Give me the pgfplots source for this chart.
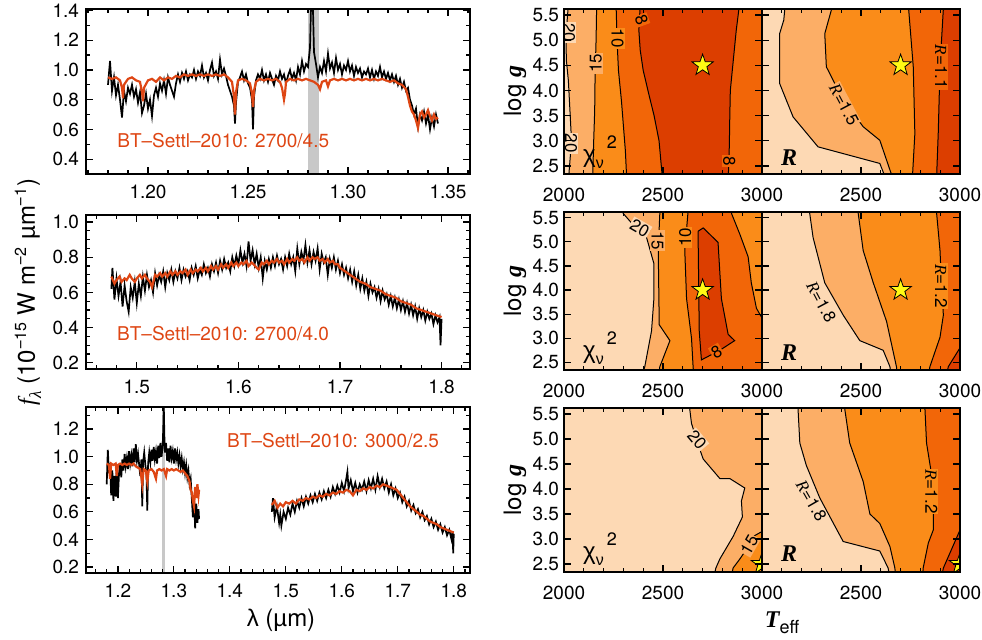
\documentclass[border=0pt]{standalone}
\usepackage{pgfplots}
\pgfplotsset{compat=1.18}
\usepackage{fontspec}
\setmainfont{TeX Gyre Heros}
\newfontfamily\greek{Liberation Sans}
\newfontfamily\tnr{Liberation Serif}
\newcommand\ticksize{\fontsize{9.5}{11}\selectfont}
\newcommand\labsize{\fontsize{12}{14}\selectfont}
\newcommand\cls{\fontsize{8.5}{9}\selectfont}
\newcommand\Rv{{\tnr\itshape R}}
\definecolor{specred}{RGB}{222,70,20}
\definecolor{c1}{RGB}{253,217,180}
\definecolor{c2}{RGB}{252,174,102}
\definecolor{c3}{RGB}{250,140,25}
\definecolor{c4}{RGB}{242,102,8}
\definecolor{c5}{RGB}{220,62,0}
\definecolor{band}{RGB}{200,200,200}
\definecolor{staryel}{RGB}{255,250,20}
\pgfdeclareplotmark{fivestar}{%
 \pgfpathmoveto{\pgfpointpolar{90}{\pgfplotmarksize}}%
 \pgfpathlineto{\pgfpointpolar{126}{0.4\pgfplotmarksize}}%
 \pgfpathlineto{\pgfpointpolar{162}{\pgfplotmarksize}}%
 \pgfpathlineto{\pgfpointpolar{198}{0.4\pgfplotmarksize}}%
 \pgfpathlineto{\pgfpointpolar{234}{\pgfplotmarksize}}%
 \pgfpathlineto{\pgfpointpolar{270}{0.4\pgfplotmarksize}}%
 \pgfpathlineto{\pgfpointpolar{306}{\pgfplotmarksize}}%
 \pgfpathlineto{\pgfpointpolar{342}{0.4\pgfplotmarksize}}%
 \pgfpathlineto{\pgfpointpolar{18}{\pgfplotmarksize}}%
 \pgfpathlineto{\pgfpointpolar{54}{0.4\pgfplotmarksize}}%
 \pgfpathclose\pgfusepathqfillstroke}
\pgfplotsset{
 base/.style={scale only axis, axis on top, anchor=north west,
   axis line style={line width=0.9pt}, tick style={black, line width=0.6pt},
   major tick length=3.6pt, minor tick length=1.8pt, tick align=inside,
   /pgf/number format/assume math mode=true, tick label style={font=\ticksize},
   clip marker paths=true},
 spec/.style={base, width=192pt, xticklabel style={yshift=-2pt}},
 cont/.style={base, width=99pt, xmin=2000, xmax=3000, ymin=2.34, ymax=5.62,
   xtick={2000,2500,3000}, minor x tick num=4,
   ytick={2.5,3.0,3.5,4.0,4.5,5.0,5.5}, yticklabels={2.5,3.0,3.5,4.0,4.5,5.0,5.5},
   xticklabel style={yshift=-3.5pt}, yticklabel style={xshift=1pt},
   axis background/.style={fill=c1}},
 contl/.style={cont, xticklabels={2000,2500,3000}},
 contr/.style={cont, xticklabels={,2500,3000}, yticklabels={}},
 cline/.style={black, line width=0.5pt},
 blk/.style={black, line width=0.85pt},
 rd/.style={specred, line width=1.1pt},
 star/.style={only marks, mark=fivestar, mark size=5.6pt, mark options={fill=staryel, draw=black, line width=0.4pt}},
}
\begin{document}
\begin{tikzpicture}
\useasboundingbox (0,0) rectangle (491pt,-319.5pt);
%================ Panel 1 ===================
\begin{axis}[spec, at={(43pt,-4.5pt)}, height=82.5pt,
  xmin=1.169, xmax=1.361, ymin=0.30, ymax=1.41,
  xtick={1.20,1.25,1.30,1.35}, xticklabels={1.20,1.25,1.30,1.35},
  minor xtick={1.17,1.18,...,1.36},
  ytick={0.4,0.6,0.8,1.0,1.2,1.4}, yticklabels={0.4,0.6,0.8,1.0,1.2,1.4},
  minor ytick={0.3,0.4,...,1.4}]
\addplot[draw=none, fill=band] coordinates {(1.2800,0.2)(1.2855,0.2)(1.2855,1.5)(1.2800,1.5)};
\addplot[blk] coordinates {
(1.180,0.90)(1.181,1.06)(1.182,0.86)(1.183,0.95)(1.184,0.83)(1.185,0.90)(1.186,0.80)(1.187,0.68)(1.188,0.86)(1.189,0.79)
(1.190,0.88)(1.191,0.84)(1.192,0.90)(1.193,0.82)(1.194,0.87)(1.195,0.78)(1.196,0.85)(1.197,0.71)(1.198,0.76)(1.199,0.84)
(1.200,0.74)(1.201,0.80)(1.202,0.69)(1.203,0.83)(1.204,0.88)(1.205,0.82)(1.206,0.91)(1.207,0.86)(1.208,0.93)(1.209,0.84)
(1.210,0.95)(1.211,0.90)(1.212,0.86)(1.213,0.82)(1.214,0.91)(1.215,0.97)(1.216,0.92)(1.217,0.98)(1.218,0.94)(1.219,0.99)
(1.220,0.93)(1.221,0.97)(1.222,0.95)(1.223,1.00)(1.224,0.94)(1.225,0.99)(1.226,0.96)(1.227,1.03)(1.228,0.95)(1.229,0.98)
(1.230,0.93)(1.231,1.00)(1.232,1.05)(1.233,0.96)(1.234,0.99)(1.235,0.94)(1.236,1.07)(1.237,0.97)(1.238,1.01)(1.239,0.96)
(1.240,0.90)(1.241,0.86)(1.242,0.82)(1.243,0.76)(1.2435,0.64)(1.244,0.78)(1.245,0.92)(1.246,0.95)(1.247,0.99)(1.248,0.93)
(1.249,0.97)(1.250,0.91)(1.251,0.88)(1.252,0.80)(1.2525,0.60)(1.253,0.82)(1.254,0.93)(1.255,0.97)(1.256,0.94)(1.257,1.00)
(1.258,0.93)(1.259,0.97)(1.260,0.92)(1.261,0.98)(1.262,0.94)(1.263,0.90)(1.264,0.96)(1.265,0.93)(1.266,0.99)(1.267,0.94)
(1.268,0.97)(1.269,0.91)(1.270,0.96)(1.271,1.00)(1.272,0.94)(1.273,0.98)(1.274,0.93)(1.275,1.02)(1.276,0.97)(1.277,1.06)
(1.278,0.99)(1.279,1.04)(1.280,1.02)(1.281,1.15)(1.2815,1.42)(1.282,1.50)(1.2825,1.40)(1.283,1.12)(1.284,1.04)(1.285,0.95)
(1.286,1.02)(1.287,0.98)(1.288,1.06)(1.289,0.99)(1.290,1.11)(1.291,1.01)(1.292,1.05)(1.293,0.98)(1.294,1.08)(1.295,1.00)
(1.296,1.04)(1.297,0.97)(1.298,1.03)(1.299,1.00)(1.300,1.06)(1.301,0.99)(1.302,1.03)(1.303,0.96)(1.304,1.02)(1.305,0.98)
(1.306,1.01)(1.307,0.95)(1.308,0.99)(1.309,0.97)(1.310,1.01)(1.311,0.95)(1.312,1.00)(1.313,0.94)(1.314,0.99)(1.315,0.96)
(1.316,1.02)(1.317,0.95)(1.318,0.99)(1.319,0.94)(1.320,0.98)(1.321,0.93)(1.322,0.97)(1.323,0.92)(1.324,0.96)(1.325,0.90)
(1.326,0.94)(1.327,0.88)(1.328,0.92)(1.329,0.86)(1.330,0.88)(1.331,0.80)(1.332,0.76)(1.333,0.70)(1.334,0.74)(1.335,0.62)
(1.336,0.70)(1.337,0.66)(1.338,0.72)(1.339,0.64)(1.340,0.70)(1.341,0.60)(1.342,0.68)(1.343,0.62)(1.344,0.70)(1.345,0.64)};
\addplot[rd] coordinates {
(1.180,0.95)(1.182,0.94)(1.184,0.95)(1.186,0.93)(1.187,0.88)(1.1875,0.81)(1.188,0.90)(1.190,0.94)(1.192,0.95)(1.194,0.93)
(1.196,0.92)(1.197,0.85)(1.1975,0.79)(1.198,0.88)(1.200,0.93)(1.202,0.94)(1.204,0.92)(1.206,0.95)(1.208,0.93)(1.210,0.95)
(1.212,0.94)(1.214,0.96)(1.216,0.95)(1.218,0.97)(1.220,0.96)(1.222,0.97)(1.224,0.96)(1.226,0.97)(1.228,0.96)(1.230,0.97)
(1.232,0.96)(1.234,0.97)(1.236,0.96)(1.238,0.97)(1.240,0.95)(1.242,0.92)(1.243,0.82)(1.2435,0.70)(1.244,0.85)(1.245,0.93)
(1.247,0.94)(1.249,0.93)(1.251,0.91)(1.252,0.84)(1.2525,0.75)(1.253,0.86)(1.254,0.92)(1.256,0.94)(1.258,0.93)(1.260,0.94)
(1.262,0.93)(1.264,0.94)(1.266,0.92)(1.267,0.88)(1.268,0.80)(1.2685,0.84)(1.269,0.92)(1.271,0.94)(1.273,0.93)(1.275,0.94)
(1.277,0.93)(1.279,0.94)(1.281,0.93)(1.283,0.92)(1.285,0.90)(1.286,0.87)(1.287,0.92)(1.289,0.93)(1.290,0.89)(1.291,0.93)
(1.293,0.94)(1.295,0.93)(1.297,0.94)(1.299,0.93)(1.301,0.94)(1.303,0.93)(1.305,0.94)(1.307,0.93)(1.309,0.94)(1.311,0.93)
(1.313,0.94)(1.315,0.93)(1.317,0.94)(1.319,0.93)(1.321,0.92)(1.323,0.93)(1.325,0.91)(1.327,0.90)(1.329,0.87)(1.330,0.82)
(1.331,0.76)(1.332,0.72)(1.333,0.70)(1.334,0.66)(1.335,0.61)(1.336,0.70)(1.337,0.72)(1.338,0.68)(1.339,0.70)(1.340,0.73)
(1.341,0.69)(1.342,0.66)(1.343,0.70)(1.344,0.67)(1.345,0.68)};
\node[anchor=west, inner sep=0pt, text=specred, font=\ticksize] at (axis cs:1.1845,0.528) {BT\textendash Settl\textendash 2010: 2700/4.5};
\end{axis}
%================ Panel 2 ===================
\begin{axis}[spec, at={(43pt,-107.5pt)}, height=77pt,
  xmin=1.45, xmax=1.828, ymin=0.165, ymax=1.04,
  xtick={1.5,1.6,1.7,1.8}, xticklabels={1.5,1.6,1.7,1.8},
  minor xtick={1.46,1.48,...,1.82},
  ytick={0.2,0.4,0.6,0.8,1.0}, yticklabels={0.2,0.4,0.6,0.8,1.0},
  minor ytick={0.2,0.25,...,1.0}]
\addplot[blk] coordinates {
(1.475,0.62)(1.476,0.74)(1.478,0.56)(1.480,0.68)(1.482,0.58)(1.484,0.66)(1.486,0.52)(1.488,0.64)(1.490,0.55)(1.492,0.49)
(1.494,0.63)(1.496,0.57)(1.498,0.66)(1.500,0.54)(1.502,0.65)(1.504,0.58)(1.506,0.69)(1.508,0.61)(1.510,0.70)(1.512,0.63)
(1.514,0.67)(1.516,0.60)(1.518,0.71)(1.520,0.64)(1.522,0.70)(1.524,0.66)(1.526,0.72)(1.528,0.63)(1.530,0.71)(1.532,0.67)
(1.534,0.73)(1.536,0.66)(1.538,0.72)(1.540,0.68)(1.542,0.74)(1.544,0.67)(1.546,0.73)(1.548,0.69)(1.550,0.72)(1.552,0.67)
(1.554,0.74)(1.556,0.70)(1.558,0.75)(1.560,0.68)(1.562,0.73)(1.564,0.70)(1.566,0.76)(1.568,0.71)(1.570,0.74)(1.572,0.69)
(1.574,0.76)(1.576,0.72)(1.578,0.77)(1.580,0.71)(1.582,0.78)(1.584,0.73)(1.586,0.79)(1.588,0.74)(1.590,0.77)(1.592,0.72)
(1.594,0.80)(1.596,0.75)(1.598,0.81)(1.600,0.76)(1.602,0.84)(1.604,0.77)(1.606,0.82)(1.608,0.75)(1.610,0.89)(1.612,0.78)
(1.614,0.84)(1.616,0.76)(1.618,0.82)(1.620,0.74)(1.622,0.80)(1.624,0.68)(1.626,0.78)(1.628,0.73)(1.630,0.79)(1.632,0.74)
(1.634,0.80)(1.636,0.75)(1.638,0.81)(1.640,0.76)(1.642,0.79)(1.644,0.73)(1.646,0.80)(1.648,0.75)(1.650,0.82)(1.652,0.76)
(1.654,0.80)(1.656,0.72)(1.658,0.85)(1.660,0.76)(1.662,0.83)(1.664,0.78)(1.666,0.87)(1.668,0.77)(1.670,0.84)(1.672,0.76)
(1.674,0.83)(1.676,0.78)(1.678,0.85)(1.680,0.73)(1.682,0.82)(1.684,0.77)(1.686,0.80)(1.688,0.70)(1.690,0.79)(1.692,0.74)
(1.694,0.80)(1.696,0.73)(1.698,0.78)(1.700,0.71)(1.702,0.76)(1.704,0.70)(1.706,0.74)(1.708,0.68)(1.710,0.73)(1.712,0.66)
(1.714,0.72)(1.716,0.64)(1.718,0.70)(1.720,0.62)(1.722,0.68)(1.724,0.61)(1.726,0.66)(1.728,0.58)(1.730,0.65)(1.732,0.60)
(1.734,0.63)(1.736,0.57)(1.738,0.62)(1.740,0.55)(1.742,0.61)(1.744,0.56)(1.746,0.59)(1.748,0.53)(1.750,0.58)(1.752,0.52)
(1.754,0.57)(1.756,0.51)(1.758,0.56)(1.760,0.50)(1.762,0.55)(1.764,0.49)(1.766,0.54)(1.768,0.48)(1.770,0.53)(1.772,0.47)
(1.774,0.52)(1.776,0.45)(1.778,0.51)(1.780,0.46)(1.782,0.50)(1.784,0.44)(1.786,0.49)(1.788,0.45)(1.790,0.48)(1.792,0.42)
(1.794,0.47)(1.796,0.43)(1.798,0.46)(1.799,0.30)(1.800,0.45)};
\addplot[rd] coordinates {
(1.475,0.69)(1.478,0.65)(1.480,0.67)(1.483,0.69)(1.485,0.66)(1.488,0.68)(1.490,0.67)(1.493,0.70)(1.495,0.68)(1.498,0.66)
(1.500,0.68)(1.503,0.70)(1.505,0.68)(1.508,0.70)(1.510,0.68)(1.513,0.66)(1.515,0.63)(1.518,0.70)(1.520,0.69)(1.523,0.71)
(1.525,0.69)(1.528,0.71)(1.530,0.69)(1.533,0.72)(1.535,0.70)(1.538,0.72)(1.540,0.70)(1.543,0.72)(1.545,0.71)(1.548,0.73)
(1.550,0.70)(1.553,0.73)(1.555,0.71)(1.558,0.73)(1.560,0.72)(1.563,0.74)(1.565,0.72)(1.568,0.74)(1.570,0.72)(1.573,0.75)
(1.575,0.73)(1.578,0.75)(1.580,0.73)(1.583,0.76)(1.585,0.74)(1.588,0.76)(1.590,0.74)(1.593,0.77)(1.595,0.75)(1.598,0.77)
(1.600,0.75)(1.603,0.77)(1.605,0.76)(1.608,0.78)(1.610,0.75)(1.613,0.77)(1.615,0.76)(1.618,0.74)(1.620,0.73)(1.623,0.77)
(1.625,0.76)(1.628,0.78)(1.630,0.76)(1.633,0.78)(1.635,0.77)(1.638,0.79)(1.640,0.77)(1.643,0.78)(1.645,0.76)(1.648,0.79)
(1.650,0.77)(1.653,0.79)(1.655,0.78)(1.658,0.80)(1.660,0.78)(1.663,0.79)(1.665,0.77)(1.668,0.80)(1.670,0.78)(1.673,0.80)
(1.675,0.79)(1.678,0.80)(1.680,0.78)(1.683,0.79)(1.685,0.77)(1.688,0.79)(1.690,0.77)(1.693,0.78)(1.695,0.76)(1.698,0.76)
(1.700,0.74)(1.705,0.72)(1.710,0.70)(1.715,0.68)(1.720,0.66)(1.725,0.65)(1.730,0.63)(1.735,0.62)(1.740,0.61)(1.745,0.59)
(1.750,0.58)(1.755,0.57)(1.760,0.55)(1.765,0.54)(1.770,0.53)(1.775,0.51)(1.780,0.50)(1.785,0.49)(1.790,0.48)(1.795,0.47)(1.800,0.46)};
\node[anchor=west, inner sep=0pt, text=specred, font=\ticksize] at (axis cs:1.4803,0.365) {BT\textendash Settl\textendash 2010: 2700/4.0};
\end{axis}
%================ Panel 3 ===================
\begin{axis}[spec, at={(43pt,-203.5pt)}, height=83pt,
  xmin=1.143, xmax=1.829, ymin=0.157, ymax=1.36,
  xtick={1.2,1.3,1.4,1.5,1.6,1.7,1.8}, xticklabels={1.2,1.3,1.4,1.5,1.6,1.7,1.8},
  minor xtick={1.16,1.18,...,1.82},
  ytick={0.2,0.4,0.6,0.8,1.0,1.2}, yticklabels={0.2,0.4,0.6,0.8,1.0,1.2},
  minor ytick={0.2,0.3,...,1.3}]
\addplot[draw=none, fill=band] coordinates {(1.2795,0.1)(1.2845,0.1)(1.2845,1.4)(1.2795,1.4)};
\addplot[blk] coordinates {
(1.180,0.80)(1.182,1.05)(1.184,0.88)(1.186,0.95)(1.188,0.72)(1.190,0.90)(1.192,0.68)(1.194,0.86)(1.196,0.71)(1.198,0.92)
(1.200,0.70)(1.202,0.88)(1.204,0.95)(1.206,0.85)(1.208,0.98)(1.210,0.90)(1.212,1.02)(1.214,0.93)(1.216,0.99)(1.218,0.91)
(1.220,1.04)(1.222,0.95)(1.224,1.01)(1.226,0.93)(1.228,1.06)(1.230,0.96)(1.232,1.09)(1.234,0.97)(1.236,1.02)(1.238,0.94)
(1.240,0.86)(1.242,0.98)(1.2435,0.64)(1.245,0.96)(1.247,1.03)(1.249,0.94)(1.251,0.88)(1.2525,0.61)(1.254,0.95)(1.256,1.03)
(1.258,0.96)(1.260,1.05)(1.262,0.97)(1.264,1.07)(1.266,0.98)(1.268,1.04)(1.270,0.95)(1.272,1.08)(1.274,0.99)(1.276,1.10)
(1.278,1.00)(1.280,1.08)(1.281,1.20)(1.282,1.36)(1.283,1.15)(1.284,1.03)(1.286,1.10)(1.288,0.97)(1.290,1.06)(1.292,0.96)
(1.294,1.08)(1.296,0.99)(1.298,1.04)(1.300,0.95)(1.302,1.06)(1.304,0.98)(1.306,1.03)(1.308,0.95)(1.310,1.01)(1.312,0.93)
(1.314,0.99)(1.316,0.91)(1.318,0.96)(1.320,0.88)(1.322,0.94)(1.324,0.85)(1.326,0.90)(1.328,0.80)(1.330,0.84)(1.332,0.70)
(1.334,0.56)(1.336,0.70)(1.338,0.48)(1.340,0.66)(1.342,0.52)(1.344,0.62)(1.345,0.55)};
\addplot[blk] coordinates {
(1.475,0.60)(1.477,0.70)(1.480,0.56)(1.484,0.64)(1.488,0.52)(1.490,0.58)(1.492,0.50)(1.496,0.60)(1.500,0.55)(1.504,0.63)
(1.508,0.58)(1.512,0.66)(1.516,0.60)(1.520,0.68)(1.524,0.63)(1.528,0.70)(1.532,0.64)(1.536,0.71)(1.540,0.66)(1.544,0.72)
(1.548,0.67)(1.552,0.73)(1.556,0.68)(1.560,0.74)(1.564,0.69)(1.568,0.75)(1.572,0.70)(1.576,0.76)(1.580,0.71)(1.584,0.78)
(1.588,0.73)(1.592,0.79)(1.596,0.74)(1.600,0.81)(1.604,0.75)(1.608,0.84)(1.610,0.89)(1.612,0.77)(1.616,0.83)(1.620,0.75)
(1.624,0.81)(1.628,0.74)(1.632,0.80)(1.636,0.76)(1.640,0.82)(1.644,0.75)(1.648,0.83)(1.652,0.77)(1.656,0.84)(1.660,0.76)
(1.664,0.86)(1.668,0.78)(1.672,0.84)(1.676,0.77)(1.680,0.82)(1.684,0.74)(1.688,0.80)(1.692,0.72)(1.696,0.77)(1.700,0.70)
(1.704,0.74)(1.708,0.67)(1.712,0.71)(1.716,0.64)(1.720,0.68)(1.724,0.61)(1.728,0.65)(1.732,0.59)(1.736,0.62)(1.740,0.56)
(1.744,0.60)(1.748,0.54)(1.752,0.57)(1.756,0.51)(1.760,0.55)(1.764,0.49)(1.768,0.53)(1.772,0.47)(1.776,0.51)(1.780,0.45)
(1.784,0.49)(1.788,0.43)(1.792,0.47)(1.796,0.40)(1.798,0.46)(1.799,0.30)(1.800,0.44)};
\addplot[rd] coordinates {
(1.180,0.95)(1.184,0.94)(1.186,0.84)(1.188,0.95)(1.192,0.94)(1.196,0.95)(1.198,0.86)(1.200,0.94)(1.204,0.95)(1.208,0.94)
(1.212,0.95)(1.216,0.94)(1.220,0.95)(1.224,0.94)(1.228,0.95)(1.232,0.93)(1.236,0.92)(1.240,0.91)(1.2435,0.80)(1.246,0.91)
(1.250,0.90)(1.2525,0.82)(1.255,0.90)(1.260,0.91)(1.264,0.89)(1.268,0.84)(1.270,0.90)(1.274,0.91)(1.278,0.90)(1.282,0.91)
(1.286,0.86)(1.288,0.91)(1.292,0.90)(1.296,0.91)(1.300,0.90)(1.304,0.91)(1.308,0.90)(1.312,0.89)(1.316,0.90)(1.320,0.88)
(1.324,0.86)(1.328,0.82)(1.330,0.76)(1.332,0.74)(1.334,0.68)(1.336,0.64)(1.338,0.78)(1.340,0.70)(1.342,0.80)(1.344,0.72)(1.345,0.76)};
\addplot[rd] coordinates {
(1.475,0.65)(1.480,0.68)(1.485,0.63)(1.490,0.66)(1.495,0.64)(1.500,0.67)(1.506,0.66)(1.512,0.68)(1.518,0.66)(1.524,0.69)
(1.530,0.68)(1.536,0.70)(1.542,0.69)(1.548,0.71)(1.554,0.70)(1.560,0.72)(1.566,0.71)(1.572,0.73)(1.578,0.72)(1.584,0.74)
(1.590,0.73)(1.596,0.75)(1.602,0.74)(1.608,0.76)(1.614,0.75)(1.620,0.72)(1.626,0.76)(1.632,0.75)(1.638,0.77)(1.644,0.76)
(1.650,0.78)(1.656,0.77)(1.662,0.79)(1.668,0.78)(1.674,0.80)(1.680,0.79)(1.686,0.78)(1.692,0.77)(1.698,0.76)(1.704,0.73)
(1.710,0.70)(1.716,0.67)(1.722,0.64)(1.728,0.62)(1.734,0.60)(1.740,0.58)(1.746,0.57)(1.752,0.55)(1.758,0.53)(1.764,0.52)
(1.770,0.51)(1.776,0.49)(1.782,0.48)(1.788,0.47)(1.794,0.46)(1.800,0.45)};
\node[anchor=west, inner sep=0pt, text=specred, font=\ticksize] at (axis cs:1.3946,1.12) {BT\textendash Settl\textendash 2010: 3000/2.5};
\end{axis}
%================ Contours row 1 ===================
\begin{axis}[contl, at={(282pt,-4.5pt)}, height=82.5pt]
\addplot[draw=none, fill=c2] coordinates {(2022,5.7)(2016,5.4)(2010,5.0)(2012,4.6)(2022,4.2)(2030,3.6)(2038,3.0)(2030,2.6)(2024,2.3)(3010,2.3)(3010,5.7)};
\addplot[draw=none, fill=c3] coordinates {(2165,5.7)(2162,5.0)(2157,4.3)(2155,3.6)(2150,3.0)(2145,2.3)(3010,2.3)(3010,5.7)};
\addplot[draw=none, fill=c4] coordinates {(2263,5.7)(2268,5.0)(2275,4.4)(2290,3.8)(2300,3.3)(2310,2.8)(2316,2.3)(3010,2.3)(3010,5.7)};
\addplot[draw=none, fill=c5] coordinates {(2385,5.7)(2378,5.2)(2385,4.8)(2400,4.4)(2430,3.9)(2455,3.5)(2480,3.0)(2496,2.3)(2830,2.3)(2835,2.9)(2837,3.4)(2840,4.0)(2855,4.6)(2870,5.2)(2886,5.7)};
\addplot[cline] coordinates {(2022,5.7)(2016,5.4)(2010,5.0)(2012,4.6)(2022,4.2)(2030,3.6)(2038,3.0)(2030,2.6)(2024,2.3)};
\addplot[cline] coordinates {(2165,5.7)(2162,5.0)(2157,4.3)(2155,3.6)(2150,3.0)(2145,2.3)};
\addplot[cline] coordinates {(2263,5.7)(2268,5.0)(2275,4.4)(2290,3.8)(2300,3.3)(2310,2.8)(2316,2.3)};
\addplot[cline] coordinates {(2385,5.7)(2378,5.2)(2385,4.8)(2400,4.4)(2430,3.9)(2455,3.5)(2480,3.0)(2496,2.3)};
\addplot[cline] coordinates {(2886,5.7)(2870,5.2)(2855,4.6)(2840,4.0)(2837,3.4)(2835,2.9)(2830,2.3)};
\node[font=\cls, rotate=-90, fill=c1, inner sep=0.5pt] at (axis cs:2025,5.15) {20};
\node[font=\cls, rotate=-90, fill=c1, inner sep=0.5pt] at (axis cs:2036,2.95) {20};
\node[font=\cls, rotate=90, fill=c2, inner sep=0.5pt] at (axis cs:2160,4.54) {15};
\node[font=\cls, rotate=-90, fill=c3, inner sep=0.5pt] at (axis cs:2270,5.04) {10};
\node[font=\cls, rotate=-70, fill=c4, inner sep=0.5pt] at (axis cs:2392,5.4) {8};
\node[font=\cls, rotate=-90, fill=c4, inner sep=0.5pt] at (axis cs:2835,2.6) {8};
\node[anchor=west, inner sep=0pt, font=\labsize] at (axis cs:2095,2.78) {{\greek χ}\raisebox{-0.5ex}{\fontsize{8}{9}\selectfont\greek ν}\raisebox{1.1ex}{\fontsize{9}{10}\selectfont\,2}};
\addplot[star] coordinates {(2700,4.5)};
\end{axis}
\begin{axis}[contr, at={(381pt,-4.5pt)}, height=82.5pt]
\addplot[draw=none, fill=c2] coordinates {(2117,5.7)(2110,5.4)(2089,5.13)(2089,4.14)(2157,3.475)(2283,2.88)(2595,2.55)(2620,2.3)(3010,2.3)(3010,5.7)};
\addplot[draw=none, fill=c3] coordinates {(2355,5.7)(2351,5.61)(2317,5.13)(2325,4.47)(2410,3.81)(2511,3.28)(2595,3.01)(2654,2.33)(2660,2.3)(3010,2.3)(3010,5.7)};
\addplot[draw=none, fill=c4] coordinates {(2739,5.7)(2764,4.47)(2772,3.14)(2760,2.3)(3010,2.3)(3010,5.7)};
\addplot[draw=none, fill=c5] coordinates {(2917,5.7)(2899,4.47)(2890,3.14)(2882,2.3)(3010,2.3)(3010,5.7)};
\addplot[cline] coordinates {(2117,5.7)(2110,5.4)(2089,5.13)(2089,4.14)(2157,3.475)(2283,2.88)(2595,2.55)(2620,2.3)};
\addplot[cline] coordinates {(2355,5.7)(2351,5.61)(2317,5.13)(2325,4.47)(2410,3.81)(2511,3.28)(2595,3.01)(2654,2.33)(2660,2.3)};
\addplot[cline] coordinates {(2739,5.7)(2764,4.47)(2772,3.14)(2760,2.3)};
\addplot[cline] coordinates {(2917,5.7)(2899,4.47)(2890,3.14)(2882,2.3)};
\node[font=\cls, rotate=-62, fill=c2, inner sep=0.5pt] at (axis cs:2415,3.72) {\Rv=1.5};
\node[font=\cls, rotate=-90, fill=c4, inner sep=0.5pt] at (axis cs:2905,4.47) {\Rv=1.1};
\node[anchor=west, inner sep=0pt, font=\labsize] at (axis cs:2095,2.66) {\tnr\bfseries\itshape R};
\addplot[star] coordinates {(2700,4.5)};
\end{axis}
%================ Contours row 2 ===================
\begin{axis}[contl, at={(282pt,-106pt)}, height=79pt]
\addplot[draw=none, fill=c2] coordinates {(2290,5.7)(2299,5.59)(2350,5.35)(2417,5.09)(2454,4.55)(2454,3.82)(2442,3.15)(2408,2.41)(2400,2.3)(3010,2.3)(3010,5.7)};
\addplot[draw=none, fill=c3] coordinates {(2485,5.7)(2476,4.82)(2481,3.28)(2535,2.95)(2484,2.41)(2480,2.3)(3010,2.3)(3010,5.7)};
\addplot[draw=none, fill=c4] coordinates {(2628,5.7)(2610,4.82)(2619,3.82)(2644,3.0)(2652,2.41)(2654,2.3)(3010,2.3)(3010,5.7)};
\addplot[draw=none, fill=c5] coordinates {(2677,5.22)(2703,5.29)(2778,4.99)(2795,3.82)(2829,3.08)(2862,2.95)(2787,2.75)(2694,2.55)(2683,3.15)(2677,5.22)};
\addplot[draw=none, fill=c3] coordinates {(2846,5.7)(2846,5.59)(2888,5.16)(2930,4.69)(2946,4.15)(2972,3.62)(3000,3.42)(3010,3.4)(3010,5.7)};
\addplot[cline] coordinates {(2290,5.7)(2299,5.59)(2350,5.35)(2417,5.09)(2454,4.55)(2454,3.82)(2442,3.15)(2408,2.41)(2400,2.3)};
\addplot[cline] coordinates {(2485,5.7)(2476,4.82)(2481,3.28)(2535,2.95)(2484,2.41)(2480,2.3)};
\addplot[cline] coordinates {(2628,5.7)(2610,4.82)(2619,3.82)(2644,3.0)(2652,2.41)(2654,2.3)};
\addplot[cline] coordinates {(2677,5.22)(2703,5.29)(2778,4.99)(2795,3.82)(2829,3.08)(2862,2.95)(2787,2.75)(2694,2.55)(2683,3.15)(2677,5.22)};
\addplot[cline] coordinates {(2846,5.7)(2846,5.59)(2888,5.16)(2930,4.69)(2946,4.15)(2972,3.62)(3000,3.42)(3010,3.4)};
\node[font=\cls, rotate=-30, fill=c1, inner sep=0.5pt] at (axis cs:2383,5.29) {20};
\node[font=\cls, rotate=-90, fill=c2, inner sep=0.5pt] at (axis cs:2472,5.02) {15};
\node[font=\cls, rotate=90, fill=c3, inner sep=0.5pt] at (axis cs:2612,5.09) {10};
\node[font=\cls, rotate=30, fill=c4, inner sep=0.5pt] at (axis cs:2770,2.72) {8};
\node[anchor=west, inner sep=0pt, font=\labsize] at (axis cs:2095,2.8) {{\greek χ}\raisebox{-0.5ex}{\fontsize{8}{9}\selectfont\greek ν}\raisebox{1.1ex}{\fontsize{9}{10}\selectfont\,2}};
\addplot[star] coordinates {(2700,4.0)};
\end{axis}
\begin{axis}[contr, at={(381pt,-106pt)}, height=79pt]
\addplot[draw=none, fill=c2] coordinates {(2236,5.7)(2241,5.59)(2258,5.09)(2317,4.15)(2410,3.48)(2494,2.95)(2612,2.75)(2646,2.41)(2650,2.3)(3010,2.3)(3010,5.7)};
\addplot[draw=none, fill=c3] coordinates {(2484,5.7)(2486,5.59)(2511,4.82)(2562,4.15)(2629,3.35)(2654,2.88)(2679,2.41)(2682,2.3)(3010,2.3)(3010,5.7)};
\addplot[draw=none, fill=c4] coordinates {(2880,5.7)(2882,5.59)(2899,4.82)(2907,4.08)(2916,3.48)(2899,3.02)(2848,2.41)(2843,2.3)(3010,2.3)(3010,5.7)};
\addplot[draw=none, fill=c5] coordinates {(3010,2.85)(3000,2.8)(2941,2.41)(2935,2.3)(3010,2.3)};
\addplot[cline] coordinates {(2236,5.7)(2241,5.59)(2258,5.09)(2317,4.15)(2410,3.48)(2494,2.95)(2612,2.75)(2646,2.41)(2650,2.3)};
\addplot[cline] coordinates {(2484,5.7)(2486,5.59)(2511,4.82)(2562,4.15)(2629,3.35)(2654,2.88)(2679,2.41)(2682,2.3)};
\addplot[cline] coordinates {(2880,5.7)(2882,5.59)(2899,4.82)(2907,4.08)(2916,3.48)(2899,3.02)(2848,2.41)(2843,2.3)};
\addplot[cline] coordinates {(3010,2.85)(3000,2.8)(2941,2.41)(2935,2.3)};
\node[font=\cls, rotate=-62, fill=c1, inner sep=0.5pt] at (axis cs:2300,3.75) {\Rv=1.8};
\node[font=\cls, rotate=-90, fill=c3, inner sep=0.5pt] at (axis cs:2905,4.08) {\Rv=1.2};
\node[anchor=west, inner sep=0pt, font=\labsize] at (axis cs:2095,2.7) {\tnr\bfseries\itshape R};
\addplot[star] coordinates {(2700,4.0)};
\end{axis}
%================ Contours row 3 ===================
\begin{axis}[contl, at={(282pt,-204pt)}, height=82pt]
\addplot[draw=none, fill=c2] coordinates {(2630,5.7)(2635,5.6)(2644,5.31)(2686,4.79)(2703,4.6)(2787,4.21)(2837,4.21)(2913,4.02)(2896,3.76)(2901,3.44)(2854,3.05)(2787,2.6)(2767,2.42)(2760,2.3)(3010,2.3)(3010,5.7)};
\addplot[draw=none, fill=c3] coordinates {(3010,3.15)(3000,3.15)(2955,3.05)(2921,2.79)(2888,2.6)(2854,2.42)(2848,2.3)(3010,2.3)};
\addplot[cline] coordinates {(2630,5.7)(2635,5.6)(2644,5.31)(2686,4.79)(2703,4.6)(2787,4.21)(2837,4.21)(2913,4.02)(2896,3.76)(2901,3.44)(2854,3.05)(2787,2.6)(2767,2.42)(2760,2.3)};
\addplot[cline] coordinates {(3010,3.15)(3000,3.15)(2955,3.05)(2921,2.79)(2888,2.6)(2854,2.42)(2848,2.3)};
\node[font=\cls, rotate=-50, fill=c1, inner sep=0.5pt] at (axis cs:2672,4.98) {20};
\node[font=\cls, rotate=60, fill=c2, inner sep=0.5pt] at (axis cs:2936,2.88) {15};
\node[anchor=west, inner sep=0pt, font=\labsize] at (axis cs:2095,2.8) {{\greek χ}\raisebox{-0.5ex}{\fontsize{8}{9}\selectfont\greek ν}\raisebox{1.1ex}{\fontsize{9}{10}\selectfont\,2}};
\addplot[star] coordinates {(3000,2.5)};
\end{axis}
\begin{axis}[contr, at={(381pt,-204pt)}, height=82pt]
\addplot[draw=none, fill=c2] coordinates {(2180,5.7)(2182,5.6)(2191,4.92)(2224,4.47)(2292,3.82)(2410,2.95)(2595,2.76)(2637,2.42)(2642,2.3)(3010,2.3)(3010,5.7)};
\addplot[draw=none, fill=c3] coordinates {(2416,5.7)(2418,5.6)(2443,4.92)(2511,4.15)(2545,3.5)(2595,3.31)(2646,2.85)(2671,2.42)(2674,2.3)(3010,2.3)(3010,5.7)};
\addplot[draw=none, fill=c4] coordinates {(2822,5.7)(2823,5.6)(2831,4.92)(2865,4.08)(2865,3.18)(2840,2.92)(2814,2.42)(2812,2.3)(3010,2.3)(3010,5.7)};
\addplot[draw=none, fill=c5] coordinates {(3010,3.2)(3000,3.18)(2916,2.42)(2910,2.3)(3010,2.3)};
\addplot[cline] coordinates {(2180,5.7)(2182,5.6)(2191,4.92)(2224,4.47)(2292,3.82)(2410,2.95)(2595,2.76)(2637,2.42)(2642,2.3)};
\addplot[cline] coordinates {(2416,5.7)(2418,5.6)(2443,4.92)(2511,4.15)(2545,3.5)(2595,3.31)(2646,2.85)(2671,2.42)(2674,2.3)};
\addplot[cline] coordinates {(2822,5.7)(2823,5.6)(2831,4.92)(2865,4.08)(2865,3.18)(2840,2.92)(2814,2.42)(2812,2.3)};
\addplot[cline] coordinates {(3010,3.2)(3000,3.18)(2916,2.42)(2910,2.3)};
\node[font=\cls, rotate=-60, fill=c1, inner sep=0.5pt] at (axis cs:2250,3.76) {\Rv=1.8};
\node[font=\cls, rotate=-90, fill=c3, inner sep=0.5pt] at (axis cs:2855,3.95) {\Rv=1.2};
\node[anchor=west, inner sep=0pt, font=\labsize] at (axis cs:2095,2.7) {\tnr\bfseries\itshape R};
\addplot[star] coordinates {(3000,2.5)};
\end{axis}
%================ Labels ===================
\node[rotate=90, font=\labsize] at (14pt,-146pt) {{\tnr\itshape f}\raisebox{-0.5ex}{\fontsize{8.5}{9}\selectfont\tnr\itshape λ} (10\textsuperscript{{\greek −}15} W m\textsuperscript{{\greek −}2} {\greek µ}m\textsuperscript{{\greek −}1})};
\node[font=\labsize] at (140.5pt,-310pt) {{\greek λ} ({\greek µ}m)};
\node[font=\labsize] at (391pt,-311.5pt) {{\tnr\bfseries\itshape T}\raisebox{-0.45ex}{\fontsize{9}{10}\selectfont eff}};
\node[rotate=90, font=\labsize] at (257.5pt,-45.5pt) {log {\tnr\bfseries\itshape g}};
\node[rotate=90, font=\labsize] at (257.5pt,-145.5pt) {log {\tnr\bfseries\itshape g}};
\node[rotate=90, font=\labsize] at (257.5pt,-245pt) {log {\tnr\bfseries\itshape g}};
\end{tikzpicture}
\end{document}
